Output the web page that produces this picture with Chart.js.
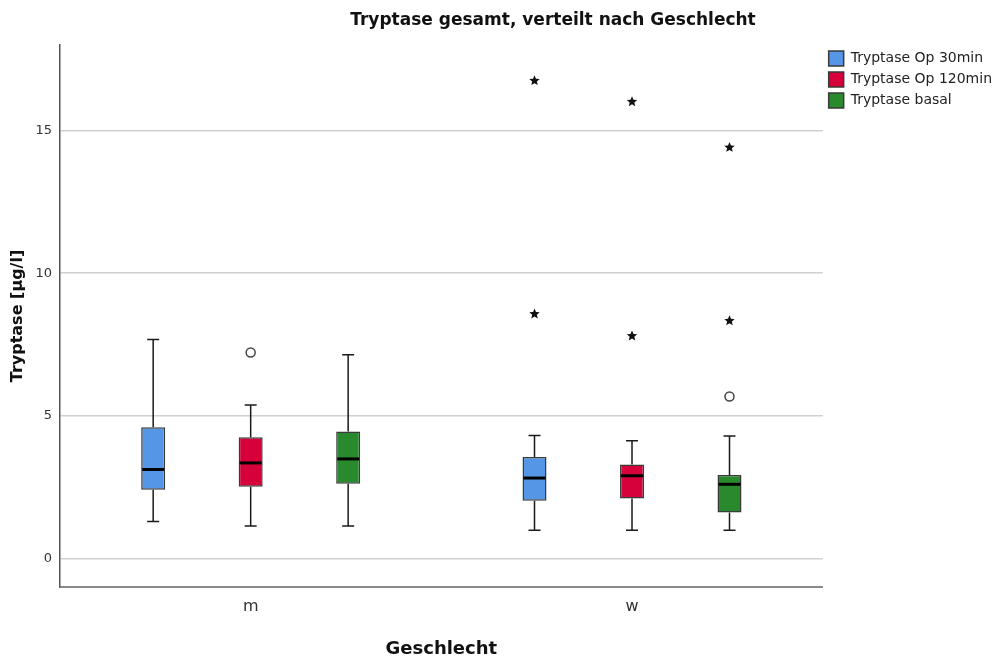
<!DOCTYPE html>
<html>
<head>
<meta charset="utf-8">
<script src="https://cdn.jsdelivr.net/npm/chart.js@4.4.1/dist/chart.umd.min.js"></script>
<style>
    html, body { margin: 0; padding: 0; background: #fff; }
    #wrap { width: 1000px; height: 660px; }
</style>
</head>
<body>
<div id="wrap"><canvas id="chartTryptase" width="1000" height="660"></canvas></div>
<script>
// Kategorien und Serien
const gruppen = ['m', 'w'];
const serien = ['Tryptase Op 30min', 'Tryptase Op 120min', 'Tryptase basal'];
const farben = ['#5597e6', '#d6003a', '#288a2c'];
const yTicks = [0, 5, 10, 15];

// Boxplot-Kennwerte je Serie, Werte für [m, w]
const minOp30 = [1.30, 0.99];
const q1Op30 = [2.41, 2.02];
const medOp30 = [3.12, 2.82];
const q3Op30 = [4.60, 3.56];
const maxOp30 = [7.68, 4.31];

const minOp120 = [1.14, 0.99];
const q1Op120 = [2.51, 2.10];
const medOp120 = [3.35, 2.90];
const q3Op120 = [4.25, 3.29];
const maxOp120 = [5.38, 4.13];

const minBasal = [1.14, 0.99];
const q1Basal = [2.62, 1.61];
const medBasal = [3.49, 2.60];
const q3Basal = [4.45, 2.93];
const maxBasal = [7.14, 4.29];

// Ausreißer (Kreis) und Extremwerte (Stern), je [m, w]
const ausreisserOp30 = [[], []];
const ausreisserOp120 = [[7.22], []];
const ausreisserBasal = [[], [5.68]];
const extremOp30 = [[], [8.57, 16.75]];
const extremOp120 = [[], [7.80, 16.01]];
const extremBasal = [[], [8.33, 14.41]];

const statistik = [
    { min: minOp30, q1: q1Op30, med: medOp30, q3: q3Op30, max: maxOp30, kreis: ausreisserOp30, stern: extremOp30 },
    { min: minOp120, q1: q1Op120, med: medOp120, q3: q3Op120, max: maxOp120, kreis: ausreisserOp120, stern: extremOp120 },
    { min: minBasal, q1: q1Basal, med: medBasal, q3: q3Basal, max: maxBasal, kreis: ausreisserBasal, stern: extremBasal }
];

Chart.defaults.font.family = '"DejaVu Sans", Arial, sans-serif';

function zeichneStern(ctx, x, y, r) {
    ctx.beginPath();
    for (let k = 0; k < 10; k++) {
        const rad = k % 2 === 0 ? r : r * 0.45;
        const a = -Math.PI / 2 + k * Math.PI / 5;
        const px = x + rad * Math.cos(a);
        const py = y + rad * Math.sin(a);
        if (k === 0) ctx.moveTo(px, py); else ctx.lineTo(px, py);
    }
    ctx.closePath();
    ctx.fill();
}

// Whisker, Median und Ausreißer über die Balken zeichnen
const boxplotPlugin = {
    id: 'boxplotExtras',
    afterDatasetsDraw(chart) {
        const ctx = chart.ctx;
        const y = chart.scales.y;
        ctx.save();
        chart.data.datasets.forEach((ds, di) => {
            const s = statistik[di];
            chart.getDatasetMeta(di).data.forEach((bar, i) => {
                const x = bar.x;
                const half = bar.width / 2;
                const cap = 6;
                ctx.strokeStyle = '#1a1a1a';
                ctx.lineWidth = 1.5;
                ctx.beginPath();
                ctx.moveTo(x, y.getPixelForValue(s.q3[i]));
                ctx.lineTo(x, y.getPixelForValue(s.max[i]));
                ctx.moveTo(x - cap, y.getPixelForValue(s.max[i]));
                ctx.lineTo(x + cap, y.getPixelForValue(s.max[i]));
                ctx.moveTo(x, y.getPixelForValue(s.q1[i]));
                ctx.lineTo(x, y.getPixelForValue(s.min[i]));
                ctx.moveTo(x - cap, y.getPixelForValue(s.min[i]));
                ctx.lineTo(x + cap, y.getPixelForValue(s.min[i]));
                ctx.stroke();

                // Median
                ctx.strokeStyle = '#000';
                ctx.lineWidth = 3;
                ctx.beginPath();
                ctx.moveTo(x - half + 1, y.getPixelForValue(s.med[i]));
                ctx.lineTo(x + half - 1, y.getPixelForValue(s.med[i]));
                ctx.stroke();

                // Ausreißer
                ctx.strokeStyle = '#444';
                ctx.lineWidth = 1.5;
                ctx.fillStyle = '#fff';
                s.kreis[i].forEach(v => {
                    ctx.beginPath();
                    ctx.arc(x, y.getPixelForValue(v), 4.5, 0, Math.PI * 2);
                    ctx.fill();
                    ctx.stroke();
                });
                ctx.fillStyle = '#111';
                s.stern[i].forEach(v => zeichneStern(ctx, x, y.getPixelForValue(v), 5.5));
            });
        });
        ctx.restore();
    }
};

// Titel
const titelPlugin = {
    id: 'titel',
    afterDraw(chart) {
        const ctx = chart.ctx;
        ctx.save();
        ctx.font = 'bold 17px "DejaVu Sans", Arial, sans-serif';
        ctx.fillStyle = '#111';
        ctx.textAlign = 'center';
        ctx.textBaseline = 'middle';
        ctx.fillText('Tryptase gesamt, verteilt nach Geschlecht', 553, 21);
        ctx.restore();
    }
};

new Chart(document.getElementById('chartTryptase').getContext('2d'), {
    type: 'bar',
    data: {
        labels: gruppen,
        datasets: serien.map((name, di) => ({
            label: name,
            data: gruppen.map((g, i) => [statistik[di].q1[i], statistik[di].q3[i]]),
            backgroundColor: farben[di],
            borderColor: '#3a3a3a',
            borderWidth: 1.5,
            borderSkipped: false,
            barPercentage: 0.246,
            categoryPercentage: 0.767
        }))
    },
    options: {
        responsive: false,
        devicePixelRatio: 1,
        animation: false,
        layout: { padding: { top: 45, right: -2, bottom: 0, left: 0 } },
        plugins: {
            tooltip: { enabled: false },
            legend: {
                position: 'right',
                align: 'start',
                labels: {
                    boxWidth: 15,
                    boxHeight: 15,
                    padding: 6,
                    color: '#222',
                    font: { size: 14 }
                }
            }
        },
        scales: {
            x: {
                grid: { display: false, drawTicks: false },
                border: { display: true, color: '#8a8a8a', width: 2 },
                ticks: { color: '#333', font: { size: 16 }, padding: 10 },
                title: { display: true, text: 'Geschlecht', color: '#111', font: { size: 18, weight: 'bold' }, padding: { top: 0, bottom: 0 } },
                afterFit: (axis) => { axis.height = 73; }
            },
            y: {
                min: -1,
                max: 18,
                afterBuildTicks: (axis) => { axis.ticks = yTicks.map(v => ({ value: v })); },
                afterFit: (axis) => { axis.width = 60; },
                grid: { color: '#d0d0d0', lineWidth: 1.5, drawTicks: false },
                border: { display: true, color: '#555', width: 1.5 },
                ticks: { color: '#333', font: { size: 13 }, padding: 8 },
                title: { display: true, text: 'Tryptase [µg/l]', color: '#111', font: { size: 16, weight: 'bold' }, padding: { top: 8, bottom: 0 } }
            }
        }
    },
    plugins: [boxplotPlugin, titelPlugin]
});
</script>
</body>
</html>
